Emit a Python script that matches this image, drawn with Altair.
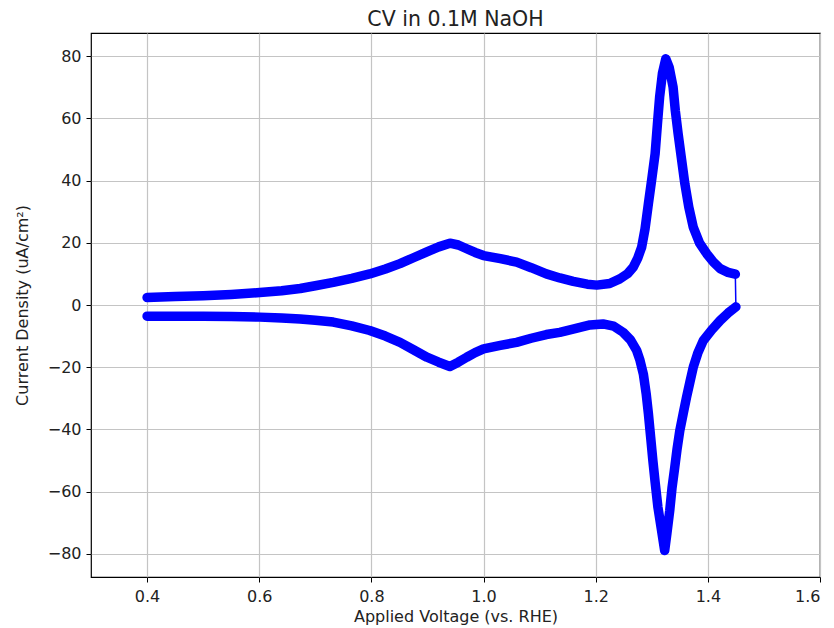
import altair as alt
import pandas as pd

# Anodic (forward) scan, 0.40 -> 1.45 V
fwd_v = [0.400, 0.450, 0.500, 0.550, 0.601, 0.640, 0.673, 0.700, 0.732, 0.765, 0.797,
         0.825, 0.851, 0.875, 0.899, 0.920, 0.940, 0.955, 0.970, 0.985, 1.000, 1.030,
         1.059, 1.085, 1.112, 1.136, 1.160, 1.185, 1.202, 1.225, 1.243, 1.257, 1.267,
         1.275, 1.282, 1.288, 1.294, 1.300, 1.306, 1.310, 1.314, 1.319, 1.325, 1.331,
         1.338, 1.342, 1.347, 1.353, 1.359, 1.366, 1.374, 1.385, 1.398, 1.410, 1.422,
         1.436, 1.449]
fwd_j = [2.4, 2.7, 3.0, 3.4, 4.0, 4.6, 5.3, 6.2, 7.3, 8.6, 10.0,
         11.6, 13.3, 15.2, 17.1, 18.7, 19.9, 19.3, 18.1, 16.9, 15.9, 14.9,
         13.8, 12.0, 10.0, 8.7, 7.6, 6.7, 6.4, 6.9, 8.4, 10.1, 12.2,
         15.1, 18.6, 24.5, 32.6, 40.5, 48.7, 58.0, 66.9, 74.5, 79.2, 76.5,
         70.1, 62.5, 55.1, 47.0, 39.0, 31.5, 25.0, 20.0, 16.5, 13.8, 11.7,
         10.5, 9.9]

# Cathodic (reverse) scan, 1.45 -> 0.40 V
rev_v = [1.450, 1.436, 1.422, 1.407, 1.392, 1.382, 1.374, 1.368, 1.362, 1.356, 1.350,
         1.345, 1.341, 1.336, 1.332, 1.327, 1.323, 1.317, 1.311, 1.306, 1.302, 1.298,
         1.294, 1.290, 1.285, 1.279, 1.273, 1.262, 1.249, 1.232, 1.213, 1.190, 1.165,
         1.136, 1.112, 1.085, 1.059, 1.030, 1.000, 0.985, 0.970, 0.955, 0.940, 0.920,
         0.899, 0.875, 0.851, 0.825, 0.797, 0.765, 0.732, 0.700, 0.673, 0.640, 0.601,
         0.550, 0.500, 0.450, 0.400]
rev_j = [-0.6, -2.6, -5.0, -8.0, -11.4, -15.5, -20.0, -24.8, -29.7, -35.0, -40.4,
         -46.5, -52.2, -59.0, -66.2, -73.5, -79.0, -72.0, -65.1, -57.0, -50.1, -42.5,
         -35.0, -28.5, -22.2, -17.8, -14.6, -11.2, -8.8, -6.8, -6.1, -6.4, -7.5,
         -8.8, -9.5, -10.7, -12.0, -13.0, -14.1, -15.3, -16.8, -18.4, -19.8, -18.4,
         -16.8, -14.4, -12.0, -10.0, -8.2, -6.7, -5.5, -4.9, -4.5, -4.2, -3.9,
         -3.7, -3.6, -3.6, -3.6]

fwd = pd.DataFrame({"V": fwd_v, "J": fwd_j, "branch": "fwd", "i": range(len(fwd_v))})
rev = pd.DataFrame({"V": rev_v, "J": rev_j, "branch": "rev",
                    "i": range(len(fwd_v), len(fwd_v) + len(rev_v))})
allpts = pd.concat([fwd, rev], ignore_index=True)

BLUE = "#0000ff"

x = alt.X("V:Q", scale=alt.Scale(domain=[0.3, 1.6], nice=False, zero=False),
          axis=alt.Axis(title="Applied Voltage (vs. RHE)", values=[0.4, 0.6, 0.8, 1.0, 1.2, 1.4, 1.6],
                        format=".1f"))
y = alt.Y("J:Q", scale=alt.Scale(domain=[-87.5, 87.5], nice=False, zero=False),
          axis=alt.Axis(title="Current Density (uA/cm²)", values=list(range(-80, 81, 20))))

thin = alt.Chart(allpts).mark_line(color=BLUE, strokeWidth=1.5).encode(x=x, y=y, order="i:Q")
thick = alt.Chart(allpts).mark_line(color=BLUE, strokeWidth=9.5, strokeCap="round",
                                     strokeJoin="round").encode(
    x=x, y=y, detail="branch:N", order="i:Q")

chart = (thin + thick).properties(
    width=729, height=544,
    title=alt.TitleParams("CV in 0.1M NaOH", fontSize=20.5, font="DejaVu Sans",
                          fontWeight="normal", color="#222222", offset=3),
    autosize=alt.AutoSizeParams(type="none"),
    padding={"left": 83, "top": 25, "right": 6, "bottom": 50},
).configure_view(stroke="black", strokeWidth=1.2
).configure_axis(
    grid=True, gridColor="#c4c4c4", gridWidth=1.2,
    domain=False, tickColor="black", tickSize=5, tickWidth=1,
    labelFont="DejaVu Sans", labelFontSize=16, labelColor="#222222", labelPadding=5,
    titleFont="DejaVu Sans", titleFontSize=16, titleColor="#222222", titleFontWeight="normal",
).configure_axisY(titlePadding=17).configure_axisX(titlePadding=4, labelPadding=6)

chart.save("out.html", embed_options={"renderer": "svg", "actions": False})
